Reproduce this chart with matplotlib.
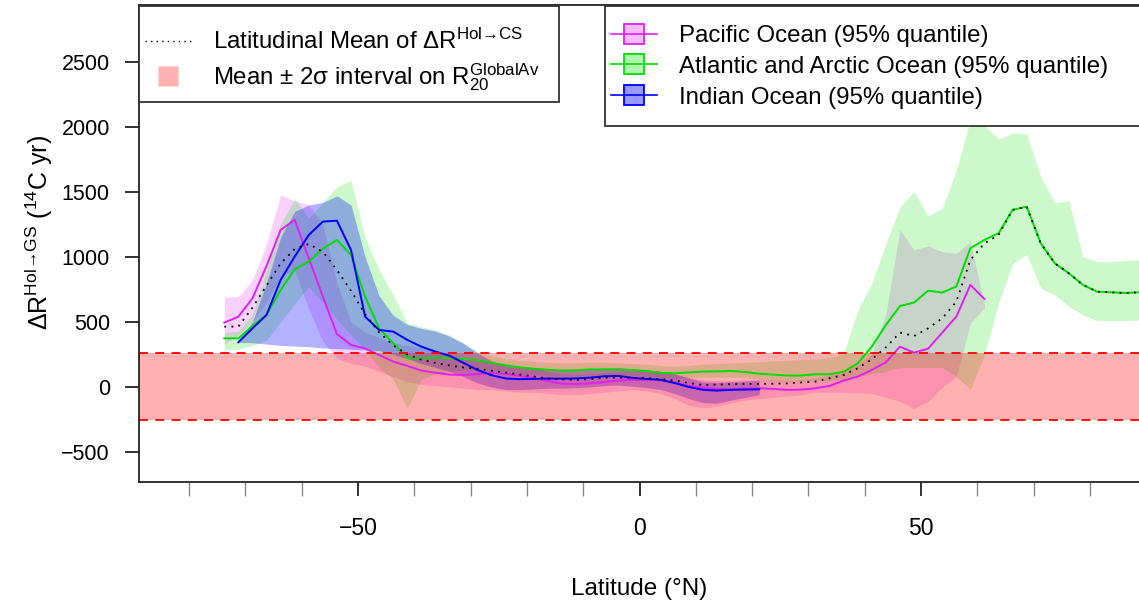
import matplotlib
matplotlib.use("Agg")
import matplotlib.pyplot as plt
from matplotlib.lines import Line2D
from matplotlib.patches import Rectangle
import numpy as np

plt.rcParams['font.family'] = ['Liberation Sans', 'DejaVu Sans']
plt.rcParams['mathtext.fontset'] = 'custom'
plt.rcParams['mathtext.rm'] = 'Liberation Sans'
plt.rcParams['mathtext.it'] = 'Liberation Sans:italic'
plt.rcParams['mathtext.bf'] = 'Liberation Sans:bold'

# latitude grids (cell centres, 2.5 deg)
lat_atl = np.arange(-73.75, 90, 2.5)
lat_pac = np.arange(-73.75, 62, 2.5)
lat_ind = np.arange(-71.25, 22, 2.5)

# Pacific Ocean: line and 95% quantile envelope
pac_mid = [495, 541, 682, 930, 1208, 1285, 990, 695, 408, 323, 297, 246, 195, 162, 126, 110,
           95, 92, 100, 108, 100, 85, 68, 45, 25, 22, 28, 38, 50, 55, 55, 52, 35, 8, -5, -15, -18,
           -12, -10, -15, -22, -20, -10,
           8, 49, 80, 131, 190, 310, 264, 295, 418, 541, 785, 677]
pac_hi = [690, 695, 823, 1100, 1480, 1430, 1400, 1250, 800, 500, 420, 380, 340, 320, 300, 280,
          250, 220, 200, 190, 180, 160, 140, 120, 100, 95, 100, 110, 120, 125, 125, 120, 100, 70,
          55, 50, 50, 55, 60, 55, 50, 55, 70,
          90, 130, 170, 250, 560, 1208, 1054, 1085, 1041, 1028, 1118, 631]
pac_lo = [330, 400, 500, 650, 850, 900, 600, 350, 220, 180, 160, 120, 80, 40, 20, 10,
          0, -10, -20, -20, -30, -40, -40, -50, -60, -60, -50, -40, -30, -20, -30, -50, -90, -140,
          -160, -150, -120, -100, -90, -80, -70, -60, -40,
          -40, -40, -45, -50, -80, -110, -165, -110, 0, 80, 490, 610]

# Atlantic and Arctic Ocean
atl_mid = [374, 374, 469, 554, 746, 905, 964, 1063, 1131, 1015, 695, 451, 336, 221, 221, 225,
           222, 215, 205, 185, 165, 150, 140, 132, 126, 128, 135, 135, 132, 130, 122, 108, 105,
           112, 118, 120, 123, 115, 102, 95, 88, 88, 98,
           98, 118, 182, 310, 477, 623, 649, 741, 726, 772, 1067, 1131, 1182, 1362, 1387, 1105,
           951, 874, 785, 733, 728, 723, 728]
atl_hi = [420, 430, 560, 900, 1250, 1450, 1300, 1420, 1540, 1590, 1150, 900, 708, 490, 464, 438,
          400, 330, 270, 240, 220, 205, 195, 190, 185, 185, 190, 190, 185, 180, 175, 165, 160,
          165, 175, 180, 185, 190, 195, 200, 205, 210, 215,
          225, 259, 592, 797, 1105, 1387, 1503, 1315, 1374, 1669, 2059, 2015, 1905, 1956, 1946,
          1618, 1418, 1433, 1002, 964, 964, 972, 979]
atl_lo = [285, 290, 320, 360, 500, 640, 772, 650, 520, 400, 290, 150, 60, -165, 60, 100,
          120, 130, 130, 120, 110, 100, 95, 90, 85, 85, 90, 90, 85, 85, 80, 70, 65,
          70, 75, 75, 75, 70, 60, 50, 45, 45, 50,
          50, 60, 80, 100, 120, 150, 150, 150, 150, 80, -18, 246, 644, 946, 1023, 759,
          708, 618, 554, 510, 510, 510, 515]

# Indian Ocean
ind_mid = [344, 451, 554, 823, 1003, 1169, 1272, 1279, 1054, 541, 438, 426, 362, 310, 272,
           240, 185, 130, 90, 65, 60, 62, 65, 64, 66, 72, 82, 85, 70, 62, 55, 30, 0, -22, -28,
           -22, -20, -18]
ind_hi = [360, 500, 800, 1150, 1350, 1400, 1420, 1470, 1400, 1000, 700, 550, 480, 450, 430,
          390, 336, 261, 200, 160, 150, 145, 140, 135, 130, 135, 145, 150, 140, 130, 120, 100,
          70, 40, 35, 40, 45, 50]
ind_lo = [344, 340, 330, 320, 315, 310, 300, 295, 290, 285, 280, 250, 220, 180, 150,
          120, 80, 30, 0, -20, -20, -15, -10, -10, -5, 0, 10, 15, 5, -5, -20, -50, -90, -120,
          -125, -100, -80, -60]

# latitudinal mean of all oceans
mean_all = [464, 464, 610, 780, 950, 1060, 1100, 1040, 900, 740, 560, 420, 320, 250, 210, 185,
            165, 150, 140, 125, 110, 95, 80, 65, 58, 55, 60, 72, 72, 70, 68, 60, 50, 30, 15, 18,
            22, 24, 24, 25, 28, 35, 41,
            67, 92, 144, 213, 305, 418, 392, 451, 528, 656, 977, 1105, 1169, 1362, 1387, 1105,
            951, 874, 785, 733, 728, 723, 728]

# mean +/- 2 sigma on R20 global average
band_lo, band_hi = -254, 261

W, H = 1139, 605
fig = plt.figure(figsize=(W / 100, H / 100), dpi=100)
ax = fig.add_axes([139 / W, 123 / H, 1000 / W, 477 / H])


def fpos(x, y):
    # pixel position (from top-left) -> figure fraction
    return x / W, 1 - y / H


oceans = [
    (lat_pac, pac_mid, pac_lo, pac_hi, '#E020F0', 0.2, 'Pacific Ocean (95% quantile)'),
    (lat_atl, atl_mid, atl_lo, atl_hi, '#00DD00', 0.2, 'Atlantic and Arctic Ocean (95% quantile)'),
    (lat_ind, ind_mid, ind_lo, ind_hi, '#0000FF', 0.3, 'Indian Ocean (95% quantile)'),
]

handles = []
for lat, mid, lo, hi, col, a, lab in oceans:
    ax.fill_between(lat, lo, hi, color=col, alpha=a, lw=0)
    ax.plot(lat, mid, color=col, lw=1.4)
    fc = matplotlib.colors.to_rgba(col, a + 0.1)
    handles.append(Line2D([], [], color=col, lw=1.2, marker='s', markersize=14.5,
                          markerfacecolor=fc, markeredgecolor=col, markeredgewidth=1.3))

ax.plot(lat_atl, mean_all, color='black', lw=1.3, ls=(0, (1, 3)))

ax.axhspan(band_lo, band_hi, color='#FF0000', alpha=0.31, lw=0)
ax.axhline(band_lo, color='#FF0000', lw=1.3, ls=(0, (5, 4)))
ax.axhline(band_hi, color='#FF0000', lw=1.3, ls=(0, (5, 4)))

ax.set_xlim(-88.9, 88.7)
ax.set_ylim(-731, 2938)
ax.spines['right'].set_visible(False)
for s in ['left', 'bottom', 'top']:
    ax.spines[s].set_linewidth(1.3)
    ax.spines[s].set_color('#222222')

ax.set_yticks([-500, 0, 500, 1000, 1500, 2000, 2500])
ax.set_xticks([-50, 0, 50])
ax.set_xticks([-80, -70, -60, -40, -30, -20, -10, 10, 20, 30, 40, 60, 70, 80], minor=True)
ax.tick_params(axis='both', which='major', length=10, width=1.3, color='#222222')
ax.tick_params(axis='x', which='major', pad=15, labelsize=16.5)
ax.tick_params(axis='y', which='major', pad=11, labelsize=15.5)
ax.tick_params(axis='x', which='minor', length=10, width=1, color='#888888')
ax.set_xticklabels(['\u221250', '0', '50'])
ax.set_yticklabels(['\u2212500', '0', '500', '1000', '1500', '2000', '2500'])

ax.set_xlabel('Latitude (°N)', fontsize=17.5)
ax.xaxis.set_label_coords(0.5, -0.201)
ax.set_ylabel(r'$\Delta$R$^{\mathrm{Hol→GS}}$ ($^{14}$C yr)', fontsize=18)
ax.yaxis.set_label_coords(-0.084, 0.524)

# legend frames (white boxes drawn over the plot)
for x0, y0, x1, y1 in [(139, 6, 559, 102), (605, 6, 1150, 126)]:
    fx0, fy1 = fpos(x0, y1)
    fx1, fy0 = fpos(x1, y0)
    fig.patches.append(Rectangle((fx0, fy1), fx1 - fx0, fy0 - fy1, transform=fig.transFigure,
                                 facecolor='white', edgecolor='#333333', lw=1.3, zorder=4))

h_mean = Line2D([], [], color='black', lw=1, ls=(0, (1, 3)))
h_band = Line2D([], [], ls='none', marker='s', markersize=14.5,
                markerfacecolor='#FFB0B0', markeredgecolor='none')
leg1 = fig.legend([h_mean, h_band],
                  [r'Latitudinal Mean of $\Delta$R$^{\mathrm{Hol→CS}}$',
                   r'Mean ± 2σ interval on R$_{20}^{\mathrm{GlobalAv}}$'],
                  loc='upper left', bbox_to_anchor=fpos(145, 29), fontsize=17.3,
                  frameon=False, handlelength=1.95, labelspacing=0.3, borderpad=0,
                  handletextpad=0.87, borderaxespad=0)
leg1.set_zorder(5)

leg2 = fig.legend(handles, [o[6] for o in oceans], loc='upper left',
                  bbox_to_anchor=fpos(611, 25), fontsize=17.3, frameon=False,
                  handlelength=1.9, labelspacing=0.37, borderpad=0,
                  handletextpad=0.92, borderaxespad=0)
leg2.set_zorder(5)

fig.savefig('out.png', dpi=100)
